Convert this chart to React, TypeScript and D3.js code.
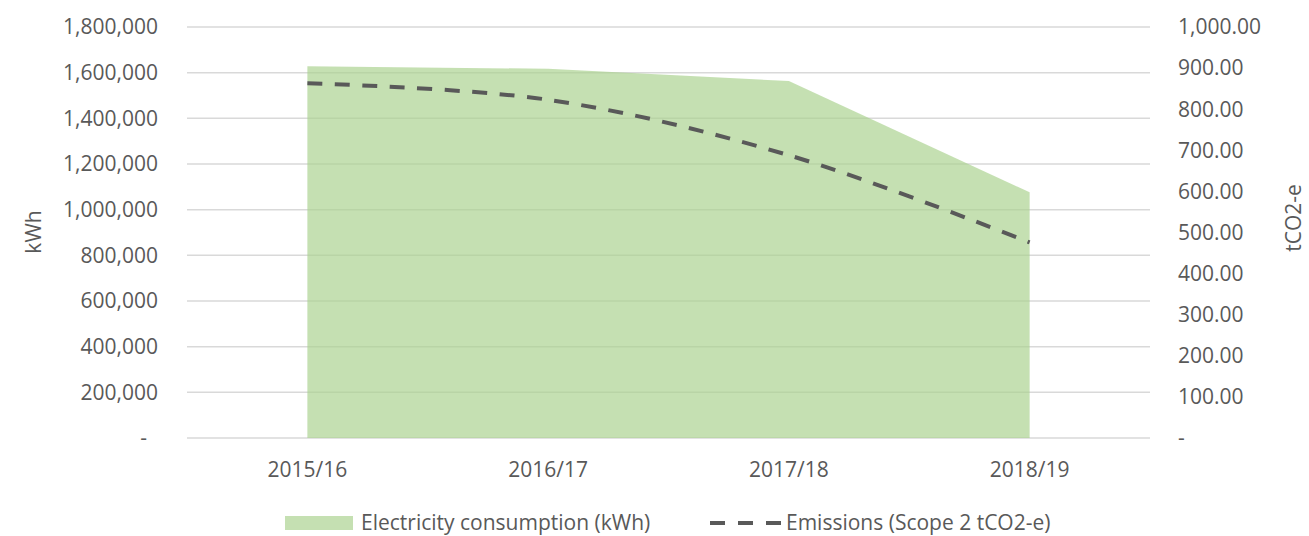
import React, { useRef, useEffect } from "react";
import * as d3 from "d3";

const years = ["2015/16", "2016/17", "2017/18", "2018/19"];
const electricityKwh = [1628000, 1617000, 1563000, 1076000];
const emissionsT = [863, 823, 688, 476];
const leftTicks = [0, 200000, 400000, 600000, 800000, 1000000, 1200000, 1400000, 1600000, 1800000];
const rightTicks = [0, 100, 200, 300, 400, 500, 600, 700, 800, 900, 1000];
const legendLabels = ["Electricity consumption (kWh)", "Emissions (Scope 2 tCO2-e)"];

function App() {
    const svgRef = useRef(null);

    useEffect(() => {
        const width = 1309,
            height = 536;
        const left = 187, right = 1150, top = 27, bottom = 438;
        const font = "'Open Sans', 'Liberation Sans', sans-serif";
        const textColor = "#595959";
        const fs = "21px";

        const svg = d3.select(svgRef.current)
            .attr("width", width)
            .attr("height", height)
            .style("font-family", font);

        const x = d3.scaleBand().domain(years).range([left, right]);
        const cx = (d) => x(d) + x.bandwidth() / 2;
        const yL = d3.scaleLinear().domain([0, 1800000]).range([bottom, top]);
        const yR = d3.scaleLinear().domain([0, 1000]).range([bottom, top]);

        // gridlines
        svg.append("g")
            .selectAll("line")
            .data(leftTicks)
            .enter()
            .append("line")
            .attr("x1", left)
            .attr("x2", right)
            .attr("y1", (d) => yL(d))
            .attr("y2", (d) => yL(d))
            .attr("stroke", "#d9d9d9")
            .attr("stroke-width", 1.5);

        // area
        const area = d3.area()
            .x((d, i) => cx(years[i]))
            .y0(yL(0))
            .y1((d) => yL(d));
        svg.append("path")
            .datum(electricityKwh)
            .attr("d", area)
            .attr("fill", "#a9d18e")
            .attr("fill-opacity", 0.68);

        // emissions line
        const line = d3.line()
            .x((d, i) => cx(years[i]))
            .y((d) => yR(d))
            .curve(d3.curveCatmullRom.alpha(0.5));
        svg.append("path")
            .datum(emissionsT)
            .attr("d", line)
            .attr("fill", "none")
            .attr("stroke", "#595959")
            .attr("stroke-width", 4)
            .attr("stroke-dasharray", "15 12.5");

        // left axis labels
        const fmtL = d3.format(",");
        svg.append("g")
            .selectAll("text")
            .data(leftTicks)
            .enter()
            .append("text")
            .attr("x", (d) => (d === 0 ? 147 : 158))
            .attr("y", (d) => yL(d))
            .attr("dy", "0.35em")
            .attr("text-anchor", "end")
            .attr("fill", textColor)
            .style("font-size", fs)
            .text((d) => (d === 0 ? "-" : fmtL(d)));

        // right axis labels
        const fmtR = d3.format(",.2f");
        svg.append("g")
            .selectAll("text")
            .data(rightTicks)
            .enter()
            .append("text")
            .attr("x", 1178)
            .attr("y", (d) => yR(d))
            .attr("dy", "0.35em")
            .attr("text-anchor", "start")
            .attr("fill", textColor)
            .style("font-size", fs)
            .text((d) => (d === 0 ? "-" : fmtR(d)));

        // x labels
        svg.append("g")
            .selectAll("text")
            .data(years)
            .enter()
            .append("text")
            .attr("x", (d) => cx(d))
            .attr("y", 477)
            .attr("text-anchor", "middle")
            .attr("fill", textColor)
            .style("font-size", fs)
            .text((d) => d);

        // axis titles
        svg.append("text")
            .attr("transform", "translate(41, 232) rotate(-90)")
            .attr("text-anchor", "middle")
            .attr("fill", textColor)
            .style("font-size", fs)
            .text("kWh");
        svg.append("text")
            .attr("transform", "translate(1301, 218) rotate(-90)")
            .attr("text-anchor", "middle")
            .attr("fill", textColor)
            .style("font-size", fs)
            .text("tCO2-e");

        // legend
        const lg = svg.append("g");
        lg.append("rect")
            .attr("x", 285)
            .attr("y", 516)
            .attr("width", 68)
            .attr("height", 14)
            .attr("fill", "#a9d18e")
            .attr("fill-opacity", 0.68);
        lg.append("text")
            .attr("x", 361)
            .attr("y", 530)
            .attr("fill", textColor)
            .style("font-size", fs)
            .text(legendLabels[0]);
        lg.append("line")
            .attr("x1", 710)
            .attr("x2", 782)
            .attr("y1", 523)
            .attr("y2", 523)
            .attr("stroke", "#595959")
            .attr("stroke-width", 4)
            .attr("stroke-dasharray", "15 13");
        lg.append("text")
            .attr("x", 786)
            .attr("y", 530)
            .attr("fill", textColor)
            .style("font-size", fs)
            .text(legendLabels[1]);

        return () => {
            d3.select(svgRef.current).selectAll("*").remove();
        };
    }, []);

    return (
        <svg ref={svgRef} style={{ position: "absolute", left: 0, top: 0 }}></svg>
    );
}

export default App;
